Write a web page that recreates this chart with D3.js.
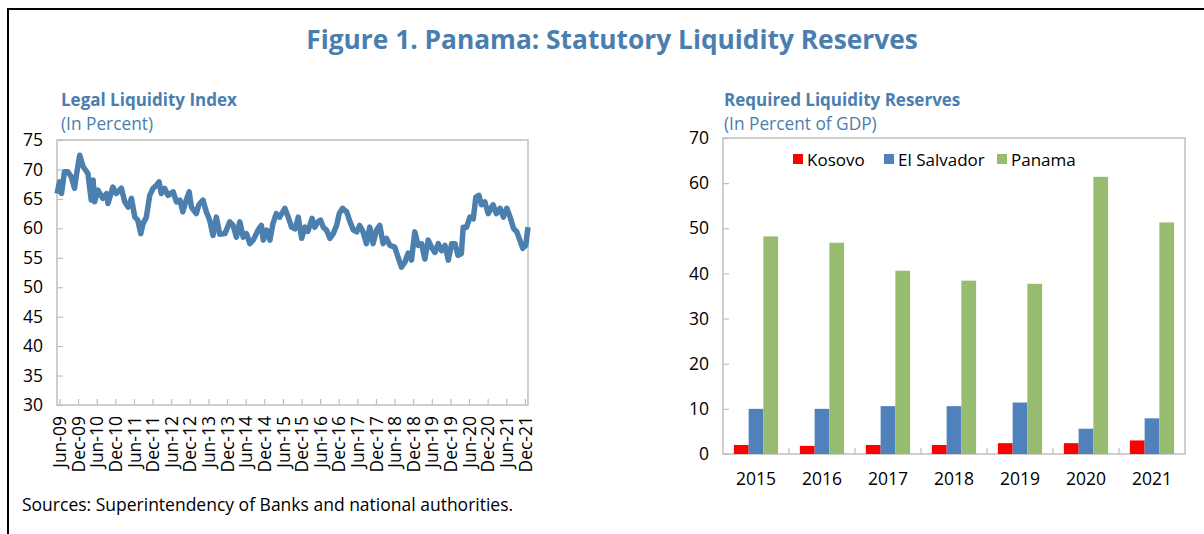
<!DOCTYPE html>
<html>
<head>
<meta charset="utf-8">
<script src="https://cdn.jsdelivr.net/npm/d3@7"></script>
<style>
  body { margin: 0; background: #ffffff; }
  text { font-family: 'Open Sans', 'Noto Sans', sans-serif; }
</style>
</head>
<body>
<svg id="chart" width="1204" height="534"></svg>
<script>
const TITLE = 'Figure 1. Panama: Statutory Liquidity Reserves';
const SOURCE = 'Sources: Superintendency of Banks and national authorities.';

// Legal liquidity index (decimal year, percent)
const liqYears = [
  2009.35, 2009.42, 2009.47, 2009.55, 2009.64, 2009.73, 2009.82, 2009.87, 2009.96, 2010.05,
  2010.18, 2010.27, 2010.32, 2010.36, 2010.45, 2010.58, 2010.68, 2010.72, 2010.85, 2010.94,
  2011.08, 2011.17, 2011.26, 2011.35, 2011.44, 2011.52, 2011.60, 2011.66, 2011.75, 2011.84,
  2011.93, 2012.02, 2012.09, 2012.15, 2012.24, 2012.33, 2012.47, 2012.56, 2012.65, 2012.73,
  2012.82, 2012.90, 2012.96, 2013.09, 2013.16, 2013.27, 2013.36, 2013.45, 2013.54, 2013.63,
  2013.72, 2013.86, 2013.99, 2014.08, 2014.17, 2014.26, 2014.35, 2014.44, 2014.53, 2014.62,
  2014.75, 2014.84, 2014.89, 2014.98, 2015.07, 2015.15, 2015.24, 2015.33, 2015.47, 2015.56,
  2015.65, 2015.74, 2015.83, 2015.92, 2016.01, 2016.09, 2016.20, 2016.27, 2016.36, 2016.43,
  2016.50, 2016.59, 2016.68, 2016.77, 2016.86, 2016.93, 2017.02, 2017.13, 2017.22, 2017.31,
  2017.40, 2017.48, 2017.57, 2017.66, 2017.75, 2017.84, 2017.93, 2018.02, 2018.11, 2018.20,
  2018.29, 2018.42, 2018.51, 2018.60, 2018.69, 2018.78, 2018.87, 2018.96, 2019.05, 2019.14,
  2019.23, 2019.32, 2019.41, 2019.50, 2019.59, 2019.68, 2019.77, 2019.86, 2019.95, 2020.04,
  2020.12, 2020.21, 2020.26, 2020.35, 2020.44, 2020.53, 2020.60, 2020.68, 2020.75, 2020.84,
  2020.93, 2021.06, 2021.15, 2021.25, 2021.34, 2021.43, 2021.52, 2021.61, 2021.70, 2021.78,
  2021.86, 2021.94, 2022.00
];
const liqValues = [
  65.9, 67.9, 65.9, 69.6, 69.6, 68.8, 66.8, 69.0, 72.4, 70.5,
  69.3, 64.8, 68.2, 64.5, 66.5, 65.1, 65.9, 64.2, 67.0, 65.9,
  66.8, 64.5, 63.6, 65.1, 61.9, 61.4, 59.1, 60.8, 61.9, 65.6,
  66.8, 67.3, 67.9, 65.9, 66.8, 65.6, 66.2, 64.5, 64.8, 62.8,
  64.8, 66.2, 63.6, 62.5, 64.0, 64.8, 62.8, 61.4, 58.8, 61.9,
  59.0, 59.1, 61.1, 60.5, 58.5, 61.1, 58.5, 59.1, 57.4, 58.0,
  59.7, 60.5, 58.0, 59.7, 58.0, 60.8, 62.5, 61.9, 63.4, 61.9,
  60.2, 59.9, 61.9, 58.3, 60.2, 59.5, 61.7, 60.2, 61.1, 61.4,
  60.2, 59.7, 58.3, 59.1, 60.5, 62.5, 63.4, 62.8, 61.1, 59.7,
  59.4, 60.5, 59.4, 57.4, 60.2, 57.4, 59.7, 60.5, 57.4, 58.3,
  57.1, 56.8, 55.1, 53.4, 54.2, 55.8, 54.6, 59.4, 57.1, 57.4,
  54.8, 58.0, 56.8, 55.9, 57.4, 56.2, 57.1, 54.6, 57.4, 57.4,
  55.4, 55.7, 60.2, 60.2, 61.9, 61.6, 65.3, 65.6, 64.0, 64.5,
  62.5, 64.0, 62.5, 63.4, 61.9, 63.4, 61.9, 60.0, 59.4, 58.0,
  56.6, 57.1, 60.2
];
const liqTicksY = [30, 35, 40, 45, 50, 55, 60, 65, 70, 75];
const liqTickLabels = [
  'Jun-09', 'Dec-09', 'Jun-10', 'Dec-10', 'Jun-11', 'Dec-11', 'Jun-12', 'Dec-12', 'Jun-13',
  'Dec-13', 'Jun-14', 'Dec-14', 'Jun-15', 'Dec-15', 'Jun-16', 'Dec-16', 'Jun-17', 'Dec-17',
  'Jun-18', 'Dec-18', 'Jun-19', 'Dec-19', 'Jun-20', 'Dec-20', 'Jun-21', 'Dec-21'
];

// Required liquidity reserves, percent of GDP
const years = ['2015', '2016', '2017', '2018', '2019', '2020', '2021'];
const countries = ['Kosovo', 'El Salvador', 'Panama'];
const kosovo = [2.0, 1.8, 2.0, 2.0, 2.4, 2.4, 3.0];
const elSalvador = [10.0, 10.0, 10.6, 10.6, 11.4, 5.6, 7.9];
const panama = [48.2, 46.8, 40.6, 38.4, 37.7, 61.4, 51.3];
const resTicksY = [0, 10, 20, 30, 40, 50, 60, 70];

const BLUE_TEXT = '#4a7eb0';
const LINE_COLOR = '#4a7fae';
const GRID_GRAY = '#bfbfbf';
const BAR_COLORS = ['#ff0000', '#4f81bd', '#97bc70'];
const FONT = "'Open Sans', sans-serif";
const TICK_FONT = 17.5;

const svg = d3.select('#chart');

// Outer frame (top and left only)
svg.append('path')
  .attr('d', 'M8,534 V9 H1204')
  .attr('fill', 'none')
  .attr('stroke', '#000')
  .attr('stroke-width', 2);

svg.append('text')
  .attr('x', 612)
  .attr('y', 49)
  .attr('text-anchor', 'middle')
  .attr('font-size', 26.3)
  .attr('font-weight', 'bold')
  .attr('fill', BLUE_TEXT)
  .text(TITLE);

svg.append('text')
  .attr('x', 22)
  .attr('y', 511)
  .attr('font-size', 17.5)
  .attr('fill', '#000')
  .text(SOURCE);

function panelTitle(x, title, sub) {
  svg.append('text')
    .attr('x', x).attr('y', 106)
    .attr('font-size', 17).attr('font-weight', 'bold')
    .attr('fill', BLUE_TEXT)
    .text(title);
  svg.append('text')
    .attr('x', x).attr('y', 130)
    .attr('font-size', 17.3)
    .attr('fill', BLUE_TEXT)
    .text(sub);
}

function styleAxis(g) {
  g.select('.domain').remove();
  g.selectAll('line').attr('stroke', GRID_GRAY).attr('stroke-width', 1.2);
  g.selectAll('text').attr('font-size', TICK_FONT).attr('fill', '#000').attr('font-family', FONT);
}

// ---------- Left panel: line ----------
{
  const L = { left: 57, right: 528, top: 140, bottom: 405 };
  panelTitle(61, 'Legal Liquidity Index', '(In Percent)');

  const x = d3.scaleLinear().domain([2009.35, 2022.0]).range([L.left, L.right]);
  const y = d3.scaleLinear().domain([30, 75]).range([L.bottom, L.top]);

  const tickPos = liqTickLabels.map(s => {
    const yr = 2000 + +s.slice(4);
    return yr + (s.startsWith('Jun') ? 5 : 11) / 12;
  });

  const gy = svg.append('g').attr('transform', `translate(${L.left},0)`)
    .call(d3.axisLeft(y).tickValues(liqTicksY).tickSize(-6).tickPadding(14));
  styleAxis(gy);

  const gx = svg.append('g').attr('transform', `translate(0,${L.bottom})`)
    .call(d3.axisBottom(x).tickValues(tickPos).tickSize(-6).tickFormat((d, i) => liqTickLabels[i]));
  styleAxis(gx);
  gx.selectAll('text')
    .attr('text-anchor', 'end')
    .attr('transform', 'translate(0,11) rotate(-90)')
    .attr('x', 0).attr('y', 0).attr('dy', '0.35em');

  svg.append('rect')
    .attr('x', L.left).attr('y', L.top)
    .attr('width', L.right - L.left).attr('height', L.bottom - L.top)
    .attr('fill', 'none').attr('stroke', GRID_GRAY).attr('stroke-width', 1.5);

  const line = d3.line()
    .x((d, i) => x(liqYears[i]))
    .y(d => y(d));

  svg.append('path')
    .datum(liqValues)
    .attr('d', line)
    .attr('fill', 'none')
    .attr('stroke', LINE_COLOR)
    .attr('stroke-width', 5.5)
    .attr('stroke-linejoin', 'round');
}

// ---------- Right panel: grouped bars ----------
{
  const R = { left: 723, right: 1185, top: 138, bottom: 454 };
  panelTitle(724, 'Required Liquidity Reserves', '(In Percent of GDP)');

  const x0 = d3.scaleBand().domain(years).range([R.left, R.right]).paddingInner(0.33).paddingOuter(0.165);
  const x1 = d3.scaleBand().domain(countries).range([0, x0.bandwidth()]);
  const y = d3.scaleLinear().domain([0, 70]).range([R.bottom, R.top]);

  const series = [kosovo, elSalvador, panama];

  svg.append('rect')
    .attr('x', R.left).attr('y', R.top)
    .attr('width', R.right - R.left).attr('height', R.bottom - R.top)
    .attr('fill', 'none').attr('stroke', GRID_GRAY).attr('stroke-width', 1.5);

  const gy = svg.append('g').attr('transform', `translate(${R.left},0)`)
    .call(d3.axisLeft(y).tickValues(resTicksY).tickSize(-6).tickPadding(14));
  styleAxis(gy);

  // category boundary ticks
  svg.append('g').selectAll('line')
    .data(years.slice(1))
    .join('line')
    .attr('x1', d => x0(d) - x0.step() * x0.paddingInner() / 2)
    .attr('x2', d => x0(d) - x0.step() * x0.paddingInner() / 2)
    .attr('y1', R.bottom).attr('y2', R.bottom - 6)
    .attr('stroke', GRID_GRAY).attr('stroke-width', 1.2);

  const gx = svg.append('g').attr('transform', `translate(0,${R.bottom})`)
    .call(d3.axisBottom(x0).tickSize(0).tickPadding(19));
  styleAxis(gx);

  const groups = svg.append('g').selectAll('g')
    .data(years)
    .join('g')
    .attr('transform', d => `translate(${x0(d)},0)`);

  groups.selectAll('rect')
    .data((d, i) => countries.map((c, k) => ({ c, k, v: series[k][i] })))
    .join('rect')
    .attr('x', d => x1(d.c))
    .attr('width', x1.bandwidth())
    .attr('y', d => y(d.v))
    .attr('height', d => y(0) - y(d.v))
    .attr('fill', d => BAR_COLORS[d.k]);

  // legend
  const legendX = [793, 884, 997];
  const lg = svg.append('g').selectAll('g')
    .data(countries)
    .join('g')
    .attr('transform', (d, i) => `translate(${legendX[i]},154)`);
  lg.append('rect').attr('width', 10).attr('height', 10)
    .attr('fill', (d, i) => BAR_COLORS[i]);
  lg.append('text').attr('x', 14).attr('y', 11.5)
    .attr('font-size', 17).attr('fill', '#000')
    .text(d => d);
}
</script>
</body>
</html>
